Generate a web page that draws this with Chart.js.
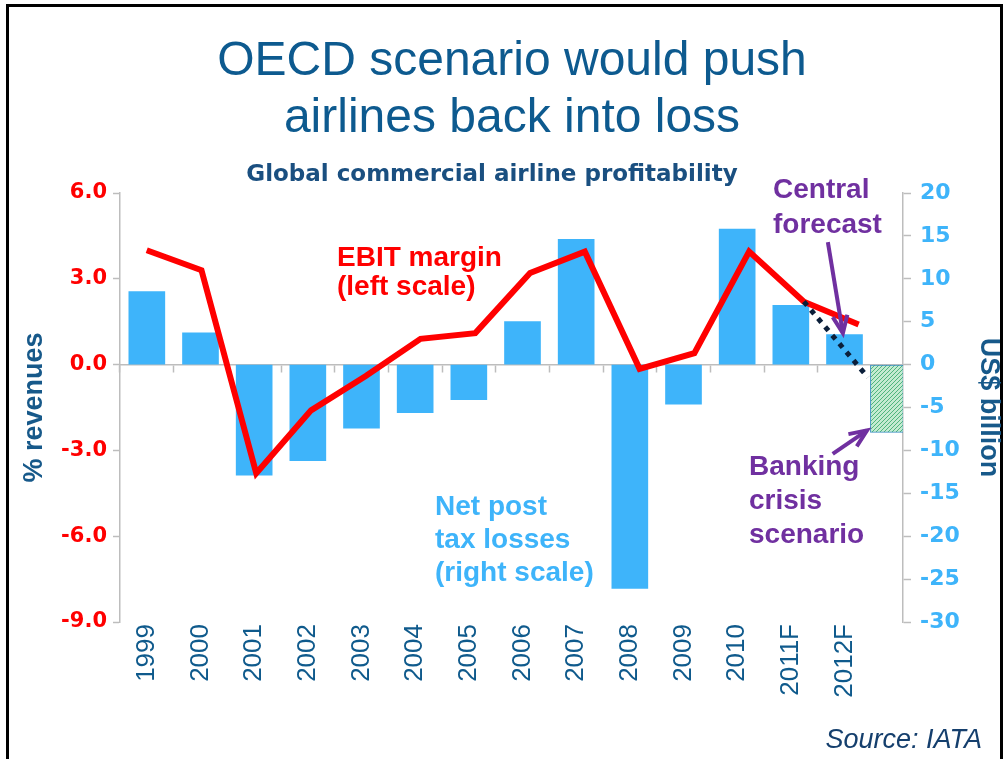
<!DOCTYPE html>
<html>
<head>
<meta charset="utf-8">
<title>OECD scenario would push airlines back into loss</title>
<script src="https://cdn.jsdelivr.net/npm/chart.js@4.4.1/dist/chart.umd.min.js"></script>
<style>
  html, body { margin: 0; padding: 0; background: #ffffff; }
  canvas { display: block; }
</style>
</head>
<body>
<canvas id="chart" width="1003" height="759"></canvas>
<script>
// ---- data ----------------------------------------------------------------
const years = ['1999', '2000', '2001', '2002', '2003', '2004', '2005',
               '2006', '2007', '2008', '2009', '2010', '2011F', '2012F'];

// Net post-tax profit/loss, US$ billion (right scale)
const netProfit = [8.5, 3.7, -12.9, -11.2, -7.4, -5.6, -4.1,
                   5.0, 14.6, -26.1, -4.6, 15.8, 6.9, 3.5];

// EBIT margin, % of revenues (left scale)
const ebitMargin = [4.0, 3.3, -3.8, -1.6, -0.4, 0.9, 1.1,
                    3.2, 3.95, -0.15, 0.4, 3.95, 2.2, 1.4];

// Banking crisis scenario: net loss bar and EBIT margin path
const scenarioSlot = [13.79];
const scenarioLoss = [-7.9];
const scenarioEbitX = [12, 13.17];
const scenarioEbit = [2.2, -0.45];

const leftTicks = { min: -9, max: 6, step: 3 };
const rightTicks = { min: -30, max: 20, step: 5 };

// ---- styling -------------------------------------------------------------
const BLUE_BAR = '#3eb4fa';
const RED = '#ff0000';
const PURPLE = '#7030a0';
const NAVY = '#0d5a8f';
const AXIS_GREY = '#bdbdbd';

function hatchPattern() {
  const t = document.createElement('canvas');
  t.width = 4; t.height = 4;
  const g = t.getContext('2d');
  g.fillStyle = '#c4ebd1';
  g.fillRect(0, 0, 4, 4);
  g.strokeStyle = '#4fb57d';
  g.lineWidth = 1;
  g.beginPath();
  g.moveTo(0, 4); g.lineTo(4, 0);
  g.moveTo(-1, 1); g.lineTo(1, -1);
  g.moveTo(3, 5); g.lineTo(5, 3);
  g.stroke();
  return g.createPattern(t, 'repeat');
}

const keepYearTicks = (axis) => {
  axis.ticks = axis.ticks.filter(t => t.value >= 0 && t.value <= years.length - 1);
};

function drawText(ctx, lines, x, y, lineStep, font, color, align) {
  ctx.save();
  ctx.font = font;
  ctx.fillStyle = color;
  ctx.textAlign = align || 'left';
  ctx.textBaseline = 'alphabetic';
  lines.forEach((s, i) => ctx.fillText(s, x, y + i * lineStep));
  ctx.restore();
}

function drawArrow(ctx, x1, y1, x2, y2) {
  const ang = Math.atan2(y2 - y1, x2 - x1);
  const head = 19, spread = 0.4;
  ctx.save();
  ctx.strokeStyle = PURPLE;
  ctx.lineWidth = 4;
  ctx.lineCap = 'butt';
  ctx.lineJoin = 'miter';
  ctx.beginPath();
  ctx.moveTo(x1, y1);
  ctx.lineTo(x2, y2);
  ctx.stroke();
  ctx.beginPath();
  ctx.moveTo(x2 - head * Math.cos(ang - spread), y2 - head * Math.sin(ang - spread));
  ctx.lineTo(x2, y2);
  ctx.lineTo(x2 - head * Math.cos(ang + spread), y2 - head * Math.sin(ang + spread));
  ctx.stroke();
  ctx.restore();
}

// arrows anchored in data space: [x on year axis, y on % revenues axis]
const forecastArrow = { from: [12.69, 4.28], to: [12.97, 1.1] };
const crisisArrow = { from: [12.78, -3.12], to: [13.42, -2.3] };

const decorations = {
  id: 'decorations',
  beforeDraw(chart) {
    const ctx = chart.ctx;
    ctx.save();
    ctx.fillStyle = '#ffffff';
    ctx.fillRect(0, 0, chart.width, chart.height);
    // slide frame
    ctx.strokeStyle = '#000000';
    ctx.lineWidth = 3;
    ctx.beginPath();
    ctx.moveTo(7.5, chart.height);
    ctx.lineTo(7.5, 5.5);
    ctx.lineTo(1001.5, 5.5);
    ctx.lineTo(1001.5, chart.height);
    ctx.stroke();
    ctx.restore();

    drawText(ctx, ['OECD scenario would push', 'airlines back into loss'],
      512, 75, 57, '48px "Liberation Sans", Arial, sans-serif', NAVY, 'center');
    drawText(ctx, ['Global commercial airline profitability'],
      492, 181, 0, 'bold 23px "DejaVu Sans", sans-serif', '#1a4f80', 'center');
  },
  afterDatasetsDraw(chart) {
    const ctx = chart.ctx;
    const xs = chart.scales.x, ys = chart.scales.y;
    const px = (p) => [xs.getPixelForValue(p[0]), ys.getPixelForValue(p[1])];

    const f1 = px(forecastArrow.from), f2 = px(forecastArrow.to);
    drawArrow(ctx, f1[0], f1[1], f2[0], f2[1]);
    const c1 = px(crisisArrow.from), c2 = px(crisisArrow.to);
    drawArrow(ctx, c1[0], c1[1], c2[0], c2[1]);

    const bold = 'bold 28px "Liberation Sans", Arial, sans-serif';
    drawText(ctx, ['EBIT margin', '(left scale)'], 337, 266, 28.5, bold, RED);
    drawText(ctx, ['Net post', 'tax losses', '(right scale)'], 435, 515, 33, bold, BLUE_BAR);
    drawText(ctx, ['Central', 'forecast'], 773, 198, 35, bold, PURPLE);
    drawText(ctx, ['Banking', 'crisis', 'scenario'], 749, 475, 34, bold, PURPLE);
    drawText(ctx, ['Source: IATA'], 982, 748, 0,
      'italic 27px "Liberation Sans", Arial, sans-serif', '#153f6d', 'right');
  }
};

const yearAxisRange = { min: -0.5, max: 14.09, offset: false };

new Chart(document.getElementById('chart'), {
  data: {
    datasets: [
      {
        type: 'line',
        label: 'Banking crisis EBIT path',
        data: scenarioEbitX.map((x, i) => ({ x, y: scenarioEbit[i] })),
        xAxisID: 'xl', yAxisID: 'y',
        borderColor: '#0b1f3a', borderWidth: 5, borderDash: [5, 6],
        borderCapStyle: 'butt', pointRadius: 0, tension: 0
      },
      {
        type: 'line',
        label: 'EBIT margin',
        data: ebitMargin.map((y, i) => ({ x: i, y })),
        xAxisID: 'xl', yAxisID: 'y',
        borderColor: RED, borderWidth: 6, borderJoinStyle: 'miter',
        borderCapStyle: 'butt', pointRadius: 0, tension: 0
      },
      {
        type: 'bar',
        label: 'Net post tax profit',
        data: netProfit.map((y, i) => ({ x: i, y })),
        xAxisID: 'x', yAxisID: 'y1', grouped: false,
        backgroundColor: BLUE_BAR, borderWidth: 0, barThickness: 36
      },
      {
        type: 'bar',
        label: 'Banking crisis scenario',
        data: scenarioSlot.map((x, i) => ({ x, y: scenarioLoss[i] })),
        xAxisID: 'xs', yAxisID: 'y1', grouped: false,
        backgroundColor: hatchPattern(), borderColor: '#3a8fc2',
        borderWidth: 1, borderSkipped: false, barThickness: 33
      }
    ]
  },
  options: {
    responsive: false,
    animation: false,
    devicePixelRatio: 1,
    layout: { padding: { top: 193, left: 0, right: 0, bottom: 0 } },
    plugins: { legend: { display: false }, tooltip: { enabled: false }, title: { display: false } },
    scales: {
      x: {
        type: 'linear', position: 'bottom', ...yearAxisRange,
        afterBuildTicks: keepYearTicks,
        afterFit: (s) => { s.height = 137; },
        grid: { display: false, drawTicks: false, offset: false },
        border: { display: false },
        ticks: {
          stepSize: 1, includeBounds: false, autoSkip: false,
          minRotation: 90, maxRotation: 90, padding: 2,
          color: '#0f5a8c',
          font: { family: '"Liberation Sans", Arial, sans-serif', size: 26 },
          callback: (v) => years[v] ?? ''
        }
      },
      x0: {
        type: 'linear', position: { y: 0 }, ...yearAxisRange,
        afterBuildTicks: keepYearTicks,
        grid: { drawOnChartArea: false, offset: true, tickLength: 7, color: AXIS_GREY, tickColor: AXIS_GREY, tickWidth: 1.5 },
        border: { color: AXIS_GREY, width: 1.5 },
        ticks: { display: false, stepSize: 1, includeBounds: false }
      },
      xl: { type: 'linear', display: false, min: -0.488, max: 13.81, offset: false },
      xs: { type: 'linear', display: false, ...yearAxisRange, grid: { offset: false } },
      y: {
        type: 'linear', position: 'left',
        min: leftTicks.min, max: leftTicks.max,
        afterFit: (s) => { s.width = 120; },
        grid: { drawOnChartArea: false, tickLength: 7, color: AXIS_GREY, tickWidth: 1.5 },
        border: { color: AXIS_GREY, width: 1.5 },
        ticks: {
          stepSize: leftTicks.step, padding: 6, color: RED,
          font: { family: '"DejaVu Sans", sans-serif', weight: 'bold', size: 21 },
          callback: (v) => v.toFixed(1)
        },
        title: {
          display: true, text: '% revenues', color: '#17598a',
          font: { family: '"Liberation Sans", Arial, sans-serif', weight: 'bold', size: 27, lineHeight: 1 },
          padding: { top: 21, bottom: 0 }
        }
      },
      y1: {
        type: 'linear', position: 'right',
        min: rightTicks.min, max: rightTicks.max,
        afterFit: (s) => { s.width = 100; },
        grid: { drawOnChartArea: false, tickLength: 8, color: AXIS_GREY, tickWidth: 1.5 },
        border: { color: AXIS_GREY, width: 1.5 },
        ticks: {
          stepSize: rightTicks.step, padding: 9, color: BLUE_BAR,
          font: { family: '"DejaVu Sans", sans-serif', weight: 'bold', size: 22 },
          callback: (v) => String(v)
        },
        title: {
          display: true, text: 'US$ billion', color: '#17598a',
          font: { family: '"Liberation Sans", Arial, sans-serif', weight: 'bold', size: 27, lineHeight: 1 },
          padding: { top: 1, bottom: 0 }
        }
      }
    }
  },
  plugins: [decorations]
});
</script>
</body>
</html>
